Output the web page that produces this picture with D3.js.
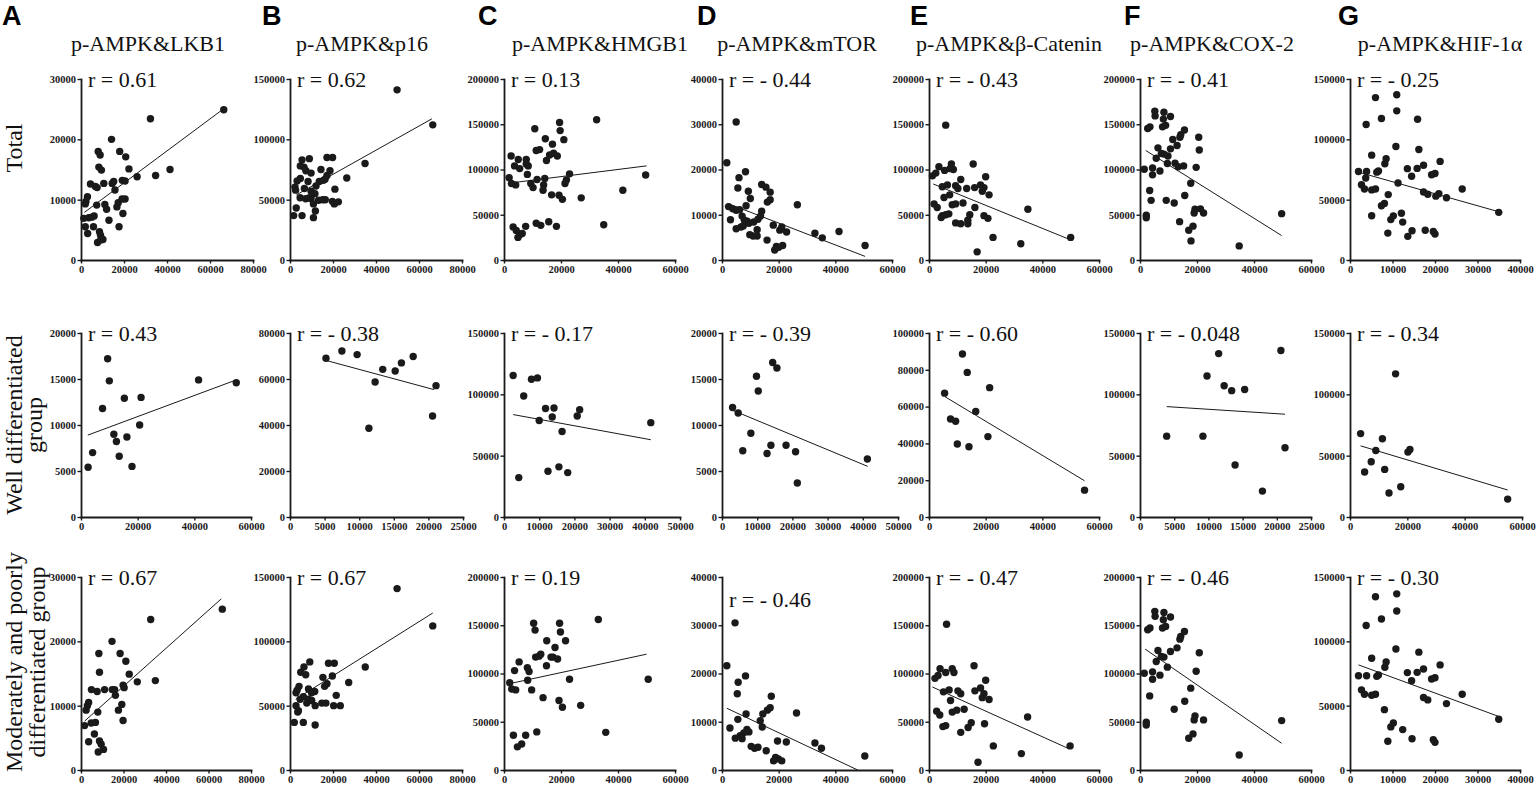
<!DOCTYPE html>
<html><head><meta charset="utf-8">
<script src="https://cdn.jsdelivr.net/npm/d3@7"></script>
<style>body{margin:0;background:#fff}svg{display:block}</style>
</head><body>
<svg id="chart" width="1536" height="789"></svg>
<script>
// ---------------- DATA ----------------
const panelLetters = ["A","B","C","D","E","F","G"];
const titles = ["p-AMPK&LKB1","p-AMPK&p16","p-AMPK&HMGB1","p-AMPK&mTOR","p-AMPK&β-Catenin","p-AMPK&COX-2","p-AMPK&HIF-1α"];
const rowLabels = [["Total"],["Well differentiated","group"],["Moderately and poorly","differentiated group"]];
const rLabels = [
  ["r = 0.61","r = 0.62","r = 0.13","r = - 0.44","r = - 0.43","r = - 0.41","r = - 0.25"],
  ["r = 0.43","r = - 0.38","r = - 0.17","r = - 0.39","r = - 0.60","r = - 0.048","r = - 0.34"],
  ["r = 0.67","r = 0.67","r = 0.19","r = - 0.46","r = - 0.47","r = - 0.46","r = - 0.30"]
];
const xMax  = [[80000,80000,60000,60000,60000,60000,40000],[60000,25000,50000,50000,60000,25000,60000],[80000,80000,60000,60000,60000,60000,40000]];
const xStep = [[20000,20000,20000,20000,20000,20000,10000],[20000,5000,10000,10000,20000,5000,20000],[20000,20000,20000,20000,20000,20000,10000]];
const yMax  = [[30000,150000,200000,40000,200000,200000,150000],[20000,80000,150000,20000,100000,150000,150000],[30000,150000,200000,40000,200000,200000,150000]];
const yStep = [[10000,50000,50000,10000,50000,50000,50000],[5000,20000,50000,5000,20000,50000,50000],[10000,50000,50000,10000,50000,50000,50000]];

// A: p-AMPK & LKB1
const A_total = [[66400,24900],[32300,23400],[14200,20000],[8000,18000],[8900,17400],[18000,18000],[20800,17100],[8300,15400],[9500,14900],[22300,15100],[34700,14000],[41400,15000],[26100,13800],[4400,12600],[6700,12200],[7500,12000],[10600,12700],[14500,12700],[15200,13000],[15800,11600],[19200,13200],[20500,13100],[3000,10500],[2300,9700],[2000,9300],[7300,9100],[11100,9200],[11900,8400],[16700,8800],[17300,9500],[19100,10100],[20500,10100],[19500,7700],[1300,6900],[3600,7000],[5000,7100],[6100,7300],[2000,5500],[3100,4400],[5800,5500],[13000,6600],[17700,5500],[8600,4700],[9100,4100],[10200,3400],[7700,2900],[9100,3300]];
const A_well = [[9400,17200],[10000,14800],[7600,11800],[15300,12900],[21200,13000],[41500,14900],[54800,14600],[11600,9000],[12500,8200],[16200,8700],[20700,10000],[13500,6600],[4100,7000],[2500,5400],[18000,5500]];
const A_mod = [[66500,25000],[32800,23400],[14600,20000],[8400,18100],[8700,15200],[18400,18100],[21100,16900],[22700,14900],[26500,13700],[35000,13900],[4900,12500],[7600,12200],[11100,12500],[14700,12500],[15800,12500],[16200,11600],[19800,13200],[20300,12800],[3600,10500],[3000,10000],[2400,9300],[7900,9000],[17600,9300],[19200,10200],[19800,7700],[1700,6900],[4800,7300],[6800,7400],[6300,5600],[3600,4400],[8700,4500],[9500,4000],[8100,2800],[10600,3200]];

// B: p-AMPK & p16
const B_total = [[49800,141000],[66400,112000],[34900,80000],[26400,68000],[9000,84000],[5600,83000],[4800,78000],[6500,77000],[7400,74000],[17200,85000],[19800,85000],[18600,74000],[14400,75000],[17200,70000],[16300,67000],[9800,72000],[8400,65000],[13600,65000],[15500,66000],[4800,67600],[3300,65500],[2300,60400],[2600,57900],[6700,59200],[9800,57000],[12100,61300],[4700,51600],[7300,50700],[9000,51600],[9800,50700],[11600,55000],[10900,46500],[13300,49500],[15200,49900],[16400,49900],[20900,58700],[19700,48600],[20600,46500],[22500,48200],[2900,43100],[1700,36800],[5600,36800],[10900,35100],[11800,40600]];
const B_well = [[5200,69000],[7500,72200],[9700,70600],[12300,58700],[13400,64200],[15200,63500],[16100,67000],[17800,69800],[11400,38600],[20600,43900],[21100,57100]];
const B_mod = [[49800,141000],[66400,112000],[35000,80000],[27300,68000],[9200,84000],[6500,80000],[5000,76000],[17900,83000],[20600,83000],[19700,73000],[15300,72000],[17200,67000],[16100,65000],[7300,74000],[4200,65000],[2800,60000],[3300,62000],[8600,63000],[10000,60000],[6200,57000],[4700,55000],[8600,55000],[11500,61000],[21500,58000],[3900,46000],[2800,50000],[7800,52000],[10100,54000],[11700,50000],[14800,52000],[16700,52000],[20300,50000],[23400,50000],[2000,37000],[6200,37000],[11700,35000],[3600,45000]];

// C: p-AMPK & HMGB1
const C_total = [[19500,152000],[32500,155000],[10800,145000],[19700,143000],[14500,134000],[17000,128000],[21000,133000],[2500,115000],[5000,111000],[7800,111000],[11300,121000],[12500,122000],[7800,106000],[8500,104000],[16000,116000],[17400,118000],[18700,115000],[14900,110000],[3700,104000],[5500,101000],[1800,91000],[2600,84500],[4100,83000],[8200,94600],[9400,84500],[10200,80000],[11600,89000],[14300,90000],[13900,82800],[13700,77000],[23000,95200],[21900,88500],[21400,84500],[16700,72000],[19300,71500],[20500,67000],[27100,68700],[41700,77000],[49700,94000],[35000,39000],[3200,36600],[4300,32700],[5500,28000],[4900,25000],[6400,29300],[7600,37200],[11300,40600],[12900,38300],[15700,42300],[18400,37200]];
const C_well = [[2600,115400],[5600,98700],[7800,112300],[9500,113400],[11800,88400],[14200,88900],[13700,81500],[10000,78700],[16500,69700],[20800,82300],[21500,87400],[41700,76900],[4200,32100],[12500,37300],[15600,40900],[18100,36200]];
const C_mod = [[2000,90500],[2700,84000],[4100,83000],[3700,103000],[5300,112000],[8200,106000],[8800,102000],[8300,93000],[9700,83000],[10400,152000],[10900,145000],[11100,117000],[12300,118000],[12900,120000],[13700,75000],[15000,134000],[14900,108000],[16500,117000],[17900,127000],[17200,117000],[18800,115000],[19500,152000],[19800,143000],[21600,134000],[19300,72000],[20500,65000],[23000,94000],[26900,67000],[33100,156000],[35700,39000],[50600,94000],[3300,36000],[4700,24000],[6200,27000],[7600,36000],[11500,39500]];

// D: p-AMPK & mTOR
const D_total = [[5000,30500],[1700,21500],[8300,19500],[6000,18200],[5600,15900],[9300,15200],[10000,13600],[14000,16700],[15500,16100],[17000,15000],[16000,12800],[17000,13300],[8500,12000],[2300,11800],[3800,11300],[5000,11000],[6200,11100],[14000,10800],[13600,9700],[12700,9000],[3000,8900],[7100,9700],[7900,8800],[8900,8600],[9500,8100],[7500,7500],[6700,7300],[5000,6900],[11200,8400],[12400,6700],[18100,7700],[20400,6600],[21100,7300],[22800,6200],[19200,3000],[18600,2200],[20000,2800],[21400,3200],[15900,4400],[9800,5600],[11000,5300],[12400,5300],[26600,12200],[32800,5900],[35400,4900],[41300,6300],[50500,3200]];
const D_well = [[3000,11900],[4600,11300],[5900,7200],[8200,9100],[9800,15300],[10300,13700],[14400,16800],[15600,16200],[12800,6900],[13900,7800],[18200,7800],[20900,7100],[21400,3700],[41300,6300]];
const D_mod = [[4600,30500],[1700,21600],[5700,18200],[5400,15800],[8300,19500],[8500,11600],[5600,10500],[2800,8700],[4700,6600],[6400,7100],[7100,6500],[7700,7700],[8800,8400],[9500,7900],[10300,4900],[11500,4500],[12700,4700],[13500,10200],[14400,11600],[14200,8900],[16000,12400],[17000,12900],[17400,15300],[15600,4000],[18200,1900],[18900,2600],[19900,2300],[21100,1900],[19600,6000],[22700,5800],[26300,11800],[32800,5600],[35100,4500],[50400,2900]];

// E: p-AMPK & beta-Catenin
const E_total = [[5900,149000],[1200,93000],[2400,96000],[3500,103000],[5500,99000],[7900,106000],[8600,100000],[7400,101000],[15600,106000],[20000,92000],[11200,89000],[4700,81000],[6500,83000],[9400,82000],[10200,79000],[13300,79000],[16100,80000],[18200,83000],[19400,80000],[18800,76000],[21200,72000],[7300,72000],[5300,69000],[1800,62000],[2900,58000],[8200,61000],[9400,62000],[12000,63000],[7000,51000],[4700,49000],[5900,50000],[4300,47000],[9400,41000],[11200,40000],[13700,44000],[14400,50000],[13700,40000],[16200,58000],[19400,49000],[20800,46000],[22600,25000],[17000,9000],[32400,18000],[34900,56000],[50000,25000]];
const E_well = [[11800,88600],[13500,78600],[5500,67300],[21400,70300],[16500,57400],[7600,53300],[9400,52000],[20800,43700],[10000,39700],[14100,38200],[54900,14600]];
const E_mod = [[6200,151000],[2100,95000],[3200,98000],[3900,105000],[5900,101000],[8200,105000],[8800,101000],[15900,108000],[20000,93000],[5100,81000],[7100,83000],[7600,72000],[10200,82000],[11200,79000],[16200,82000],[18200,85000],[19400,79000],[18800,75000],[21200,73000],[2700,61000],[3800,57000],[8200,60000],[9800,62000],[12400,63000],[5900,46000],[4900,45000],[11200,39000],[13800,44000],[14900,49000],[19600,48000],[22700,25000],[17300,8000],[32600,17000],[34800,55000],[49800,25000]];

// F: p-AMPK & COX-2
const F_total = [[5200,164400],[5300,159200],[8400,163300],[8200,155700],[10700,158500],[7900,147100],[9000,148800],[2700,145300],[3500,147100],[14300,138400],[15600,143600],[14000,135600],[20800,121500],[6300,123900],[10700,122800],[13000,126600],[5700,112500],[8400,117000],[7500,117600],[9600,106600],[1500,100300],[4400,101700],[4400,94100],[7000,98300],[19700,102400],[3400,76800],[17800,84800],[12000,63000],[15700,71300],[2200,49500],[2200,46700],[19300,56100],[19000,51900],[22300,51900],[17100,32900],[18600,37400],[34800,15600],[49700,51200],[3900,65900],[9200,65900],[9800,114900],[11500,133200],[12300,107000],[13400,103000],[15300,104000],[13900,42400],[17900,21100],[20600,135700],[21200,56500]];
const F_well = [[3900,65900],[9200,65900],[9800,114900],[11500,133200],[12300,107000],[13400,103000],[15300,104000],[13900,42400],[17900,21100],[20600,135700],[21200,56500]];
const F_mod = [[5200,164400],[5300,159200],[8400,163300],[8200,155700],[10700,158500],[7900,147100],[9000,148800],[2700,145300],[3500,147100],[14300,138400],[15600,143600],[14000,135600],[20800,121500],[6300,123900],[10700,122800],[13000,126600],[5700,112500],[8400,117000],[7500,117600],[9600,106600],[1500,100300],[4400,101700],[4400,94100],[7000,98300],[19700,102400],[3400,76800],[17800,84800],[12000,63000],[15700,71300],[2200,49500],[2200,46700],[19300,56100],[19000,51900],[22300,51900],[17100,32900],[18600,37400],[34800,15600],[49700,51200]];

// G: p-AMPK & HIF-1alpha
const G_total = [[2000,73300],[2700,62300],[3400,58900],[3900,73300],[3800,112300],[5100,86900],[5100,58100],[6000,58900],[6000,134600],[6300,72800],[6700,73800],[7400,117300],[8100,46900],[8200,79800],[8500,84000],[8900,22300],[9600,33500],[10200,36600],[10800,94000],[11000,123600],[11000,136900],[12400,31400],[13500,75700],[14500,69400],[14600,24300],[15800,75900],[16200,91600],[17300,78500],[17300,56300],[18300,54500],[19200,70700],[20000,71700],[19600,23600],[20000,21500],[21200,81700],[22700,51600],[26400,58900],[35000,39500],[3700,68000],[5100,36700],[7400,45000],[9000,54200],[11300,63800],[12100,38800],[13600,19600],[15900,116700],[17700,24600],[20200,52900],[20900,55000]];
const G_well = [[3700,68000],[5100,36700],[7400,45000],[9000,54200],[11300,63800],[12100,38800],[13600,19600],[15900,116700],[17700,24600],[20200,52900],[20900,55000],[55000,14600]];
const G_mod = [[2000,73300],[2700,62300],[3400,58900],[3900,73300],[3800,112300],[5100,86900],[5100,58100],[6000,58900],[6000,134600],[6300,72800],[6700,73800],[7400,117300],[8100,46900],[8200,79800],[8500,84000],[8900,22300],[9600,33500],[10200,36600],[10800,94000],[11000,123600],[11000,136900],[12400,31400],[13500,75700],[14500,69400],[14600,24300],[15800,75900],[16200,91600],[17300,78500],[17300,56300],[18300,54500],[19200,70700],[20000,71700],[19600,23600],[20000,21500],[21200,81700],[22700,51600],[26400,58900],[35000,39500]];

// regression line end points [row][col]
const fitLines = [
  [[[1600,7900],[66100,25000]],[[3000,54000],[66000,117000]],[[2000,85000],[50000,104000]],[[2000,12500],[50500,800]],[[1500,84000],[49400,23000]],[[2000,121000],[49700,27000]],[[1800,73000],[35000,40000]]],
  [[[2400,8900],[54800,14900]],[[5300,68000],[20800,55400]],[[2600,83500],[41700,63000]],[[2400,11700],[41400,5500]],[[5500,65500],[54900,19700]],[[3900,90000],[21200,83800]],[[3700,58000],[55000,22000]]],
  [[[1700,7600],[66000,26600]],[[2700,55000],[66400,122000]],[[1200,89000],[50000,120000]],[[1700,12800],[47900,0]],[[1200,86000],[49400,22000]],[[1800,125300],[49700,27700]],[[2000,81700],[35000,41600]]]
];

const points = [
  [A_total,B_total,C_total,D_total,E_total,F_total,G_total],
  [A_well,B_well,C_well,D_well,E_well,F_well,G_well],
  [A_mod,B_mod,C_mod,D_mod,E_mod,F_mod,G_mod]
];

// ---------------- LAYOUT ----------------
const colLeft = [81, 290, 504, 722, 929, 1140, 1350];
const panelW = [[172,172,171,170,170,171,170],[170,173,176,176,170,171,172],[170,172,171,170,170,171,170]];
const rowTop = [79, 333, 577];
const rowBot = [260, 517, 770];
const titleX = [148, 362, 600, 797, 1009, 1212, 1440];
const letterX = [2, 262, 478, 697, 910, 1124, 1338];
const SERIF = "'Liberation Serif','Times New Roman',Times,serif";
const SANS = "'Liberation Sans',Arial,Helvetica,sans-serif";
const INK = "#1a1a1a";

const svg = d3.select("#chart");
svg.append("rect").attr("width",1536).attr("height",789).attr("fill","#fff");

// panel letters and titles
panelLetters.forEach((L,i)=>{
  svg.append("text").attr("x",letterX[i]).attr("y",25).text(L)
    .attr("font-family",SANS).attr("font-weight","bold").attr("font-size","27px").attr("fill","#000");
  svg.append("text").attr("x",titleX[i]).attr("y",51).attr("text-anchor","middle").text(titles[i])
    .attr("font-family",SERIF).attr("font-size","22px").attr("fill","#111");
});

// row labels (rotated)
const rowLabelPos = [{y:148, x:[22]}, {y:425, x:[22,42]}, {y:662, x:[22,45]}];
rowLabels.forEach((lines,r)=>{
  lines.forEach((t,k)=>{
    svg.append("text")
      .attr("transform",`translate(${rowLabelPos[r].x[k]},${rowLabelPos[r].y}) rotate(-90)`)
      .attr("text-anchor","middle").text(t)
      .attr("font-family",SERIF).attr("font-size","24px").attr("fill","#111");
  });
});

function styleAxis(g){
  g.select(".domain").attr("stroke",INK).attr("stroke-width",1.8).attr("stroke-linecap","square");
  g.selectAll(".tick line").attr("stroke",INK).attr("stroke-width",1.4);
  g.selectAll(".tick text").attr("font-family",SERIF).attr("font-weight","bold")
    .attr("font-size","10.5px").attr("fill",INK);
}

for (let r=0;r<3;r++){
  for (let c=0;c<7;c++){
    const x0 = colLeft[c], w = panelW[r][c];
    const xs = d3.scaleLinear().domain([0,xMax[r][c]]).range([x0,x0+w]);
    const ys = d3.scaleLinear().domain([0,yMax[r][c]]).range([rowBot[r],rowTop[r]]);
    const g = svg.append("g");

    const gx = g.append("g").attr("transform",`translate(0,${rowBot[r]})`)
      .call(d3.axisBottom(xs).tickValues(d3.range(0,xMax[r][c]+1,xStep[r][c]))
        .tickSize(3.5).tickSizeOuter(0).tickPadding(2.5).tickFormat(d3.format("d")));
    styleAxis(gx);
    const gy = g.append("g").attr("transform",`translate(${x0},0)`)
      .call(d3.axisLeft(ys).tickValues(d3.range(0,yMax[r][c]+1,yStep[r][c]))
        .tickSize(3.5).tickSizeOuter(0).tickPadding(1.5).tickFormat(d3.format("d")));
    styleAxis(gy);

    const fl = fitLines[r][c];
    g.append("line")
      .attr("x1",xs(fl[0][0])).attr("y1",ys(fl[0][1]))
      .attr("x2",xs(fl[1][0])).attr("y2",ys(fl[1][1]))
      .attr("stroke",INK).attr("stroke-width",1);

    g.append("g").selectAll("circle").data(points[r][c]).join("circle")
      .attr("cx",d=>xs(d[0])).attr("cy",d=>ys(d[1])).attr("r",3.7).attr("fill",INK);

    const ry = (r===2 && c===3) ? rowTop[r]+30 : rowTop[r]+8;
    g.append("text").attr("x",x0+7).attr("y",ry).text(rLabels[r][c])
      .attr("font-family",SERIF).attr("font-size","22px").attr("fill","#111");
  }
}
</script>
</body></html>
